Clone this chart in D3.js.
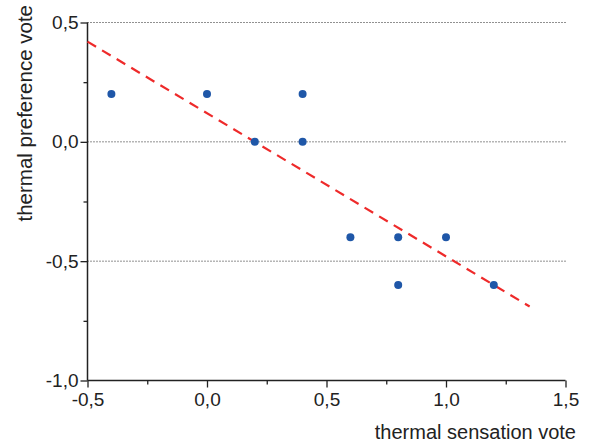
<!DOCTYPE html>
<html>
<head>
<meta charset="utf-8">
<script src="https://cdn.jsdelivr.net/npm/d3@7"></script>
<style>
  body { margin: 0; background: #fff; }
  svg { display: block; font-family: "Liberation Sans", Arial, sans-serif; }
</style>
</head>
<body>
<div id="chart"></div>
<script>
(function () {
    'use strict';

    // data
    const sensation = [-0.4, 0.0, 0.2, 0.4, 0.4, 0.6, 0.8, 0.8, 1.0, 1.2];
    const preference = [0.2, 0.2, 0.0, 0.2, 0.0, -0.4, -0.4, -0.6, -0.4, -0.6];
    const fitX = [-0.5, 1.35];
    const fitY = [0.42, -0.69];
    const xTicks = [-0.5, 0, 0.5, 1.0, 1.5];
    const yTicks = [-1.0, -0.5, 0, 0.5];
    const gridY = [-0.5, 0, 0.5];

    const width = 589, height = 443;
    const fmt = d => d3.format(".1f")(d).replace(".", ",").replace("−", "-");

    const svg = d3.select("#chart").append("svg")
        .attr("width", width)
        .attr("height", height);

    const x = d3.scaleLinear().domain([-0.5, 1.5]).range([87.5, 565.5]);
    const y = d3.scaleLinear().domain([-1.0, 0.5]).range([380.5, 22.5]);

    // dotted grid
    svg.append("g").selectAll("line")
        .data(gridY)
        .enter().append("line")
        .attr("x1", x(-0.5)).attr("x2", x(1.5))
        .attr("y1", d => y(d)).attr("y2", d => y(d))
        .attr("stroke", "#222")
        .attr("stroke-width", 1)
        .attr("stroke-dasharray", "1,2");

    // minor ticks
    const minorX = d3.range(-0.25, 1.5, 0.5);
    const minorY = d3.range(-0.75, 0.5, 0.5);

    const xAxis = svg.append("g")
        .attr("transform", `translate(0,${y(-1.0)})`)
        .call(d3.axisBottom(x).tickValues(xTicks).tickFormat(fmt).tickSize(7).tickPadding(5));
    svg.append("g")
        .attr("transform", `translate(0,${y(-1.0)})`)
        .call(d3.axisBottom(x).tickValues(minorX).tickFormat("").tickSize(4))
        .select(".domain").remove();

    const yAxis = svg.append("g")
        .attr("transform", `translate(${x(-0.5)},0)`)
        .call(d3.axisLeft(y).tickValues(yTicks).tickFormat(fmt).tickSize(7).tickPadding(2));
    svg.append("g")
        .attr("transform", `translate(${x(-0.5)},0)`)
        .call(d3.axisLeft(y).tickValues(minorY).tickFormat("").tickSize(4))
        .select(".domain").remove();

    svg.selectAll(".domain").attr("stroke", "#222").attr("stroke-width", 1.5);
    svg.selectAll(".tick line").attr("stroke", "#222").attr("stroke-width", 1.3);
    svg.selectAll(".tick text")
        .attr("fill", "#222")
        .attr("font-size", 19)
        .attr("font-family", "'Liberation Sans', Arial, sans-serif");
    xAxis.selectAll(".domain").attr("d", `M${x(-0.5)},0H${x(1.5)}`);
    yAxis.selectAll(".domain").attr("d", `M0,${y(-1.0)}V${y(0.5)}`);

    // regression line
    svg.append("line")
        .attr("x1", x(fitX[0])).attr("y1", y(fitY[0]))
        .attr("x2", x(fitX[1])).attr("y2", y(fitY[1]))
        .attr("stroke", "#ee2a2a")
        .attr("stroke-width", 2.2)
        .attr("stroke-dasharray", "10,7");

    // points
    svg.append("g").selectAll("circle")
        .data(sensation.map((d, i) => [d, preference[i]]))
        .enter().append("circle")
        .attr("cx", d => x(d[0]))
        .attr("cy", d => y(d[1]))
        .attr("r", 4)
        .attr("fill", "#1f57a8");

    // axis titles
    svg.append("text")
        .attr("x", 576)
        .attr("y", 439)
        .attr("text-anchor", "end")
        .attr("fill", "#222")
        .attr("font-size", 20)
        .text("thermal sensation vote");

    svg.append("text")
        .attr("transform", "translate(32,5) rotate(-90)")
        .attr("text-anchor", "end")
        .attr("fill", "#222")
        .attr("font-size", 20.5)
        .text("thermal preference vote");
})();
</script>
</body>
</html>
